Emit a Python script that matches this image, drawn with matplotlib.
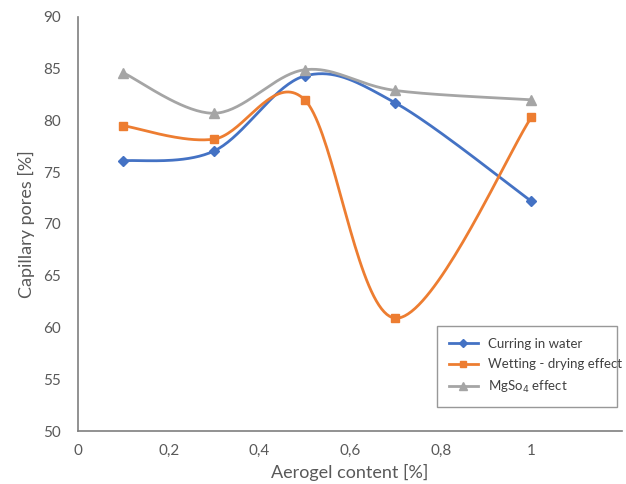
import numpy as np
import matplotlib
matplotlib.use("Agg")
import matplotlib.pyplot as plt

plt.rcParams['font.family'] = ['Lato', 'DejaVu Sans']

x = [0.1, 0.3, 0.5, 0.7, 1.0]
curing_water = [76.1, 77.05, 84.3, 81.7, 72.2]
wetting_drying = [79.5, 78.2, 82.0, 60.9, 80.3]
mgso4 = [84.6, 80.7, 84.9, 82.9, 82.0]
labels = ["Curring in water", "Wetting - drying effect", "MgSo$_4$ effect"]
colors = ["#4472C4", "#ED7D31", "#A5A5A5"]
markers = ["D", "s", "^"]
xticks = [0, 0.2, 0.4, 0.6, 0.8, 1.0]
xticklabels = ["0", "0,2", "0,4", "0,6", "0,8", "1"]
yticks = [50, 55, 60, 65, 70, 75, 80, 85, 90]


def smooth(xs, ys, n=40):
    P = np.column_stack([xs, ys]).astype(float)
    m = len(P)
    out = []
    for i in range(m - 1):
        p0 = P[i - 1] if i > 0 else P[i]
        p1 = P[i]
        p2 = P[i + 1]
        p3 = P[i + 2] if i + 2 < m else P[i + 1]
        c1 = p1 + (p2 - p0) / 6.0
        c2 = p2 - (p3 - p1) / 6.0
        t = np.linspace(0, 1, n)[:, None]
        seg = ((1 - t) ** 3) * p1 + 3 * ((1 - t) ** 2) * t * c1 + 3 * (1 - t) * t ** 2 * c2 + t ** 3 * p2
        out.append(seg if i == 0 else seg[1:])
    s = np.vstack(out)
    return s[:, 0], s[:, 1]


fig = plt.figure(figsize=(6.26, 4.84), dpi=100)
ax = fig.add_axes([0.1246, 0.1095, 0.869, 0.8554])

msizes = [5, 6, 7]
for ys, c, mk, lab, ms in zip([curing_water, wetting_drying, mgso4], colors, markers, labels, msizes):
    sx, sy = smooth(x, ys)
    ax.plot(sx, sy, color=c, lw=2)
    ax.plot(x, ys, linestyle='none', marker=mk, color=c, ms=ms)
    ax.plot([], [], color=c, lw=2, marker=mk, ms=ms - 1, label=lab)

ax.set_xlim(0, 1.2)
ax.set_ylim(50, 90)
ax.set_xticks(xticks)
ax.set_xticklabels(xticklabels)
ax.set_yticks(yticks)

txtc = "#595959"
for s in ["top", "right"]:
    ax.spines[s].set_visible(False)
for s in ["left", "bottom"]:
    ax.spines[s].set_color("#7f7f7f")
    ax.spines[s].set_linewidth(1.2)
ax.tick_params(length=0, colors=txtc, labelsize=11)
ax.tick_params(axis='y', pad=12)
ax.tick_params(axis='x', pad=9)
ax.set_xlabel("Aerogel content [%]", color=txtc, fontsize=13, labelpad=5)
ax.set_ylabel("Capillary pores [%]", color=txtc, fontsize=13, labelpad=6)

leg = ax.legend(loc="lower left", bbox_to_anchor=(0.66, 0.058, 0.331, 0.193), mode="expand",
                borderaxespad=0, frameon=True, fancybox=False, fontsize=9.5, labelcolor="#404040",
                handlelength=2.2, borderpad=0.9, labelspacing=0.65)
leg.get_frame().set_edgecolor("#7f7f7f")
leg.get_frame().set_linewidth(1.0)

fig.savefig("out.png", dpi=100)
